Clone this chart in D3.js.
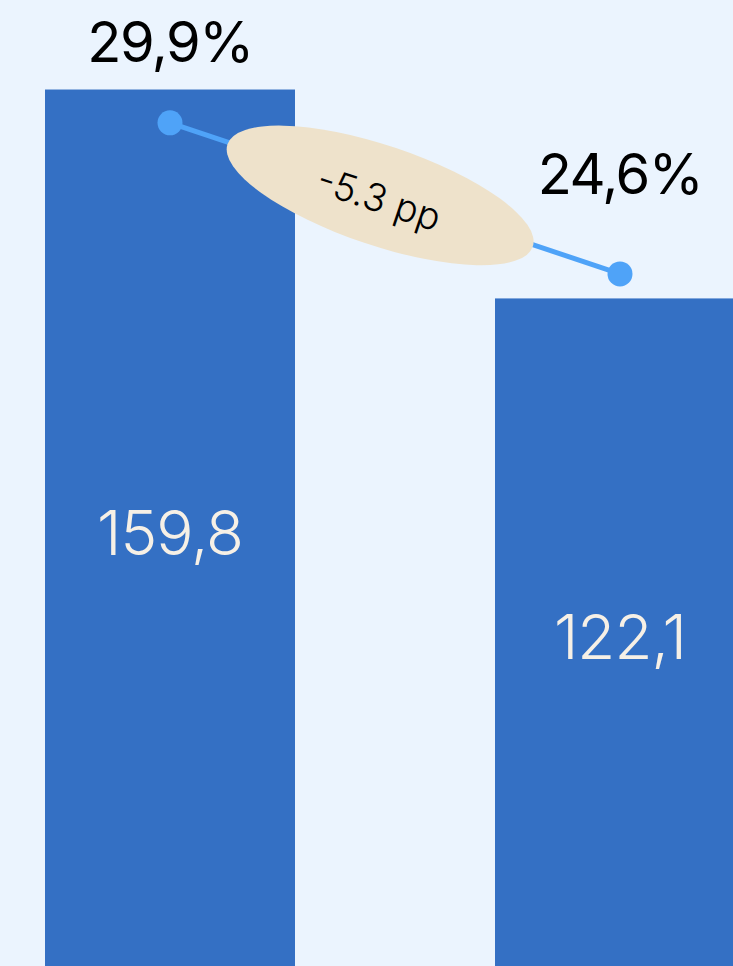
<!DOCTYPE html>
<html>
<head>
<meta charset="utf-8">
<script src="https://cdn.jsdelivr.net/npm/d3@7"></script>
<style>
  html, body { margin: 0; padding: 0; background: #EBF4FE; }
  svg { display: block; }
</style>
</head>
<body>
<div id="chart"></div>
<script>
// chart data
const categories = ['Period 1', 'Period 2'];
const barValues = [159.8, 122.1];
const shareValues = [29.9, 24.6];
const changeLabel = '-5.3 pp';

const WIDTH = 733;
const HEIGHT = 966;
const BASELINE = 975; // bars run past the bottom edge

const commaLocale = d3.formatLocale({ decimal: ',', thousands: '.', grouping: [3], currency: ['', ''] });
const fmt = commaLocale.format('.1f');

const svg = d3.select('#chart').append('svg')
    .attr('width', WIDTH)
    .attr('height', HEIGHT);

svg.append('rect')
    .attr('width', WIDTH)
    .attr('height', HEIGHT)
    .attr('fill', '#EBF4FE');

const x = d3.scaleBand()
    .domain(categories)
    .range([45, 745])
    .paddingInner(200 / 450)
    .paddingOuter(0);

const yBar = d3.scaleLinear().domain([0, 170]).range([BASELINE, 33]);
const yShare = d3.scaleLinear().domain([0, 34]).range([BASELINE, 6]);

const data = categories.map((c, i) => ({ cat: c, value: barValues[i], share: shareValues[i] }));

// bars
svg.selectAll('rect.bar')
    .data(data)
    .join('rect')
    .attr('class', 'bar')
    .attr('x', d => x(d.cat))
    .attr('y', d => yBar(d.value))
    .attr('width', x.bandwidth())
    .attr('height', d => BASELINE - yBar(d.value))
    .attr('fill', '#3470C4');

// value labels inside bars
svg.selectAll('text.val')
    .data(data)
    .join('text')
    .attr('class', 'val')
    .attr('x', d => x(d.cat) + x.bandwidth() / 2)
    .attr('y', d => (yBar(d.value) + BASELINE) / 2)
    .attr('text-anchor', 'middle')
    .attr('dominant-baseline', 'central')
    .attr('font-family', 'Inter, sans-serif')
    .attr('font-weight', 300)
    .attr('font-size', 62)
    .attr('letter-spacing', -1)
    .attr('fill', '#F6F0E6')
    .text(d => fmt(d.value));

// connector line between share dots
const pts = data.map(d => [x(d.cat) + x.bandwidth() / 2, yShare(d.share)]);

svg.append('line')
    .attr('x1', pts[0][0]).attr('y1', pts[0][1])
    .attr('x2', pts[1][0]).attr('y2', pts[1][1])
    .attr('stroke', '#4FA3F8')
    .attr('stroke-width', 5);

svg.selectAll('circle.dot')
    .data(pts)
    .join('circle')
    .attr('class', 'dot')
    .attr('cx', d => d[0])
    .attr('cy', d => d[1])
    .attr('r', 12.5)
    .attr('fill', '#4FA3F8');

// share labels
const labelOffset = [61, 80];
svg.selectAll('text.share')
    .data(data)
    .join('text')
    .attr('class', 'share')
    .attr('x', d => x(d.cat) + x.bandwidth() / 2)
    .attr('y', (d, i) => yShare(d.share) - labelOffset[i])
    .attr('text-anchor', 'middle')
    .attr('font-family', 'Inter, sans-serif')
    .attr('font-weight', 400)
    .attr('font-size', 56)
    .attr('letter-spacing', -1.5)
    .attr('fill', '#000')
    .text(d => fmt(d.share) + '%');

// change badge
const angle = Math.atan2(pts[1][1] - pts[0][1], pts[1][0] - pts[0][0]) * 180 / Math.PI;
const cx = pts[0][0] + (pts[1][0] - pts[0][0]) * 0.467;
const cy = pts[0][1] + (pts[1][1] - pts[0][1]) * 0.467 + 2;

const badge = svg.append('g')
    .attr('transform', `translate(${cx},${cy}) rotate(${angle})`);

badge.append('ellipse')
    .attr('rx', 161)
    .attr('ry', 50)
    .attr('fill', '#EEE2CB');

badge.append('text')
    .attr('y', 3)
    .attr('text-anchor', 'middle')
    .attr('dominant-baseline', 'central')
    .attr('font-family', 'Inter, sans-serif')
    .attr('font-weight', 300)
    .attr('font-size', 38)
    .attr('fill', '#000')
    .text(changeLabel);
</script>
</body>
</html>
